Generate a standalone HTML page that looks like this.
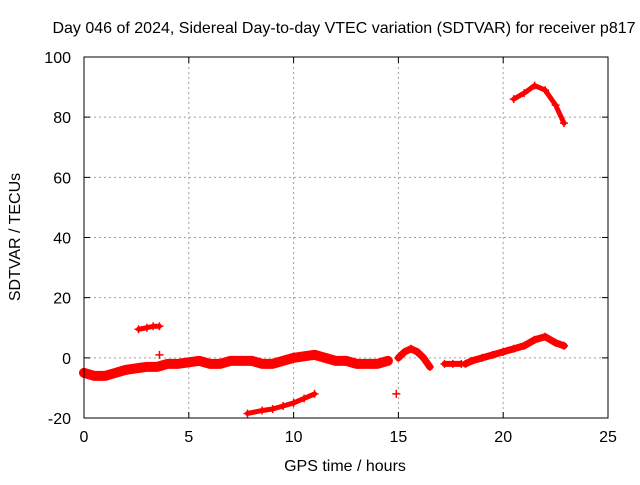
<!DOCTYPE html>
<html><head><meta charset="utf-8"><style>
body{margin:0;background:#fff}
svg text{font-family:"Liberation Sans",sans-serif;font-size:16px;fill:#000}
</style></head><body>
<svg id="chart" width="640" height="480" xmlns="http://www.w3.org/2000/svg">
<text x="344" y="33" text-anchor="middle">Day 046 of 2024, Sidereal Day-to-day VTEC variation (SDTVAR) for receiver p817</text>
<text x="345" y="471" text-anchor="middle">GPS time / hours</text>
<text x="20" y="237" text-anchor="middle" transform="rotate(-90 20 237)">SDTVAR / TECUs</text>
<g id="grid"></g><g id="series"></g><g id="axes"></g>
</svg>
<script>
const xTicks=[0,5,10,15,20,25];
const yTicks=[-20,0,20,40,60,80,100];
const segMainT=[0,0.5,1,1.5,2,2.5,3,3.5,4,4.5,5,5.5,6,6.5,7,7.5,8,8.5,9,9.5,10,10.5,11,11.5,12,12.5,13,13.5,14,14.5];
const segMainV=[-5,-6,-6,-5,-4,-3.5,-3,-3,-2,-2,-1.5,-1,-2,-2,-1,-1,-1,-2,-2,-1,0,0.5,1,0,-1,-1,-2,-2,-2,-1];
const segBumpT=[15,15.3,15.6,15.9,16.2,16.5];
const segBumpV=[0,2,3,2,0,-3];
const segFlatT=[17.2,17.6,18];
const segFlatV=[-2,-2,-2];
const segRiseT=[18.2,18.5,19,19.5,20,20.5,21,21.5,22,22.5,22.9];
const segRiseV=[-2,-1,0,1,2,3,4,6,7,5,4];
const segHighT=[20.5,21,21.5,22,22.5,22.9];
const segHighV=[86,88,90.5,89,84,78];
const segMidT=[2.6,3,3.3,3.6];
const segMidV=[9.5,10,10.5,10.5];
const segLowT=[7.8,8.5,9,9.5,10,10.5,11];
const segLowV=[-18.5,-17.5,-17,-16,-15,-13.5,-12];
const isoT=[3.6,14.9];
const isoV=[1,-12];
const X0=84,X1=608,Y0=418,Y1=57;
const sx=t=>X0+(t-0)/(25-0)*(X1-X0);
const sy=v=>Y0-(v+20)/120*(Y0-Y1);
const NS="http://www.w3.org/2000/svg";
function mk(tag,attrs,parent){const e=document.createElementNS(NS,tag);for(const k in attrs)e.setAttribute(k,attrs[k]);parent.appendChild(e);return e;}
const grid=document.getElementById('grid'),axes=document.getElementById('axes'),ser=document.getElementById('series');
xTicks.forEach(t=>{
 if(t>0&&t<25){const g=mk('line',{x1:sx(t),x2:sx(t),y1:Y1,y2:Y0,stroke:'#a0a0a0','stroke-dasharray':'2,3'},grid);
 }
 const tk=mk('path',{d:`M${sx(t)},${Y0}v-6M${sx(t)},${Y1}v6`,stroke:'#000'},axes);
 
 const l=mk('text',{x:sx(t),y:Y0+24,'text-anchor':'middle'},axes);l.textContent=t;
 
});
yTicks.forEach(v=>{
 if(v>-20&&v<100){const g=mk('line',{x1:X0,x2:X1,y1:sy(v),y2:sy(v),stroke:'#a0a0a0','stroke-dasharray':'2,3'},grid);
 }
 const tk=mk('path',{d:`M${X0},${sy(v)}h6M${X1},${sy(v)}h-6`,stroke:'#000'},axes);
 
 const l=mk('text',{x:X0-13,y:sy(v)+6,'text-anchor':'end'},axes);l.textContent=v;
 
});
const fr=mk('rect',{x:X0,y:Y1,width:X1-X0,height:Y0-Y1,fill:'none',stroke:'#000'},axes);

function seg(T,V,w,name){
 const p=mk('polyline',{points:T.map((t,i)=>sx(t)+','+sy(V[i])).join(' '),fill:'none',stroke:'#f00','stroke-width':w,'stroke-linejoin':'round','stroke-linecap':'round'},ser);
 
 T.forEach((t,i)=>{const m=mk('path',{d:`M${sx(t)-4},${sy(V[i])}h8M${sx(t)},${sy(V[i])-4}v8`,stroke:'#f00','stroke-width':1.5},ser);
 });
}
seg(segMainT,segMainV,10,'main-band');
seg(segBumpT,segBumpV,7,'bump-band');
seg(segFlatT,segFlatV,6,'flat-band');
seg(segRiseT,segRiseV,7,'rise-band');
seg(segHighT,segHighV,5,'high-band');
seg(segMidT,segMidV,5,'mid-band');
seg(segLowT,segLowV,5,'low-band');
isoT.forEach((t,i)=>{const m=mk('path',{d:`M${sx(t)-4},${sy(isoV[i])}h8M${sx(t)},${sy(isoV[i])-4}v8`,stroke:'#f00','stroke-width':1.5},ser);
 });
</script>
</body></html>
